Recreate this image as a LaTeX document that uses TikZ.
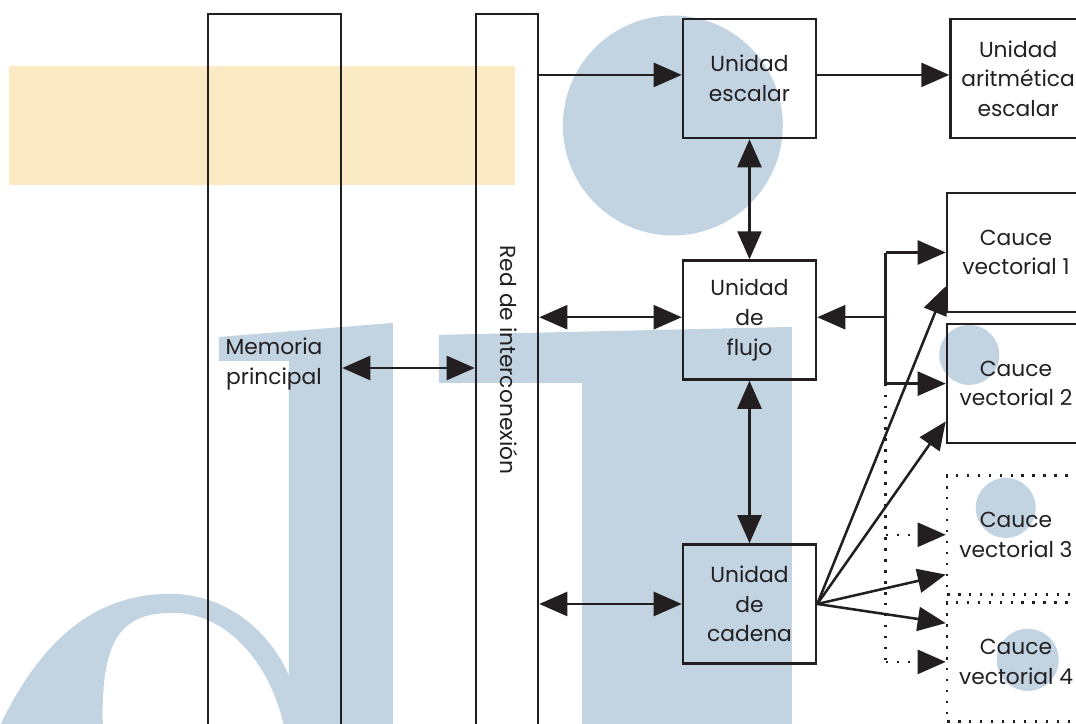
\documentclass[tikz,border=0pt]{standalone}
\usepackage{xcolor}
\usepackage{fontspec}
\setmainfont{Poppins}
\usetikzlibrary{arrows.meta, positioning}

\definecolor{inkline}{HTML}{231F20}
\definecolor{logoblue}{HTML}{C2D4E2}
\definecolor{bandyellow}{HTML}{FAEBC5}

\begin{document}
\begin{tikzpicture}[
  node distance=0.24cm and 3.3cm,
  unit/.style={rectangle, draw=inkline, line width=1.8pt, minimum width=3.325cm, minimum height=2.975cm, align=center, text=inkline, font=\fontsize{15.5}{21}\selectfont},
  pipe/.style={unit, minimum width=3.45cm},
  pipeoff/.style={pipe, dash pattern=on 1.8pt off 6pt},
  column/.style={rectangle, draw=inkline, line width=1.8pt, minimum height=18.65cm},
  tag/.style={align=center, text=inkline, font=\fontsize{15.5}{21}\selectfont},
  wire/.style={line width=1.8pt, draw=inkline},
  arrow/.style={wire, -{Triangle[length=0.7cm, width=0.6cm]}},
  biarrow/.style={wire, {Triangle[length=0.7cm, width=0.6cm]}-{Triangle[length=0.7cm, width=0.6cm]}},
  dotline/.style={wire, dash pattern=on 1.8pt off 6pt},
  dotarrow/.style={arrow, dash pattern=on 1.8pt off 6pt}
]
\useasboundingbox (0,0) rectangle (26.9,-18.1);
\clip (0,0) rectangle (26.9,-18.1);

% Background marks (pixel grid)
\begin{scope}[x=0.025cm, y=-0.025cm]
  \fill[bandyellow] (9,66) rectangle (515,185);
  \fill[logoblue] (673,125.5) circle (110);
  \fill[logoblue] (439,335) -- (792,327) -- (792,730) -- (582,730) -- (582,383) -- (439,383) -- cycle;
  \fill[logoblue] (219,337) -- (393,323) -- (393,730) -- (289,730) -- (289,361) -- (219,361) -- cycle;
  \fill[logoblue, even odd rule]
    (-2,730) .. controls (40,640) and (95,594) .. (170,594) .. controls (225,594) and (270,630) .. (290,678) -- (290,730) -- cycle
    (103,730) .. controls (100,640) and (120,613) .. (173,613) .. controls (225,613) and (270,660) .. (285,730) -- cycle;
  \fill[logoblue] (969.5,355) circle (30);
  \fill[logoblue] (1006,508) circle (30);
  \fill[logoblue] (1028,660) circle (31);
\end{scope}

% Memory and network columns
\node (memoria) [column, minimum width=3.325cm] at (6.8625,-9.675) {};
\node (red) [column, minimum width=1.55cm] at (12.675,-9.675) {};
\node (memtxt) [tag] at (6.85,-9.1) {Memoria\\principal};
\node (redtxt) [tag, rotate=-90] at (12.72,-9.0) {Red de interconexión};

% Control units
\node (escalar) [unit] at (18.7375,-1.9625) {Unidad\\escalar};
\node (aritmetica) [pipe, minimum width=3.38cm, right=of escalar] {Unidad\\aritmética\\escalar};
\node (flujo) [unit, below=3.0cm of escalar] {Unidad\\de\\flujo};
\node (cadena) [unit, below=4.06cm of flujo] {Unidad\\de\\cadena};

% Vector pipes
\node (cauce1) [pipe] at (25.4,-6.3125) {Cauce\\vectorial 1};
\node (cauce2) [pipe, below=of cauce1] {Cauce\\vectorial 2};
\node (cauce3) [pipeoff, below=0.74cm of cauce2] {Cauce\\vectorial 3};
\node (cauce4) [pipeoff, below=0.14cm of cauce3] {Cauce\\vectorial 4};

\coordinate (membus) at (0,-9.2);
\coordinate (fork) at (22.14,0);

% Main connections
\draw [biarrow] (memoria.east |- membus) -- (red.west |- membus);
\draw [arrow] (red.east |- escalar.west) ++(0,0.09) -- ([yshift=0.09cm]escalar.west);
\draw [arrow] ([yshift=0.09cm]escalar.east) -- ([yshift=0.09cm]aritmetica.west);
\draw [biarrow] (escalar) -- (flujo);
\draw [biarrow] (flujo) -- (cadena);
\draw [biarrow] (red.east |- flujo.west) ++(0,0.07) -- ([yshift=0.07cm]flujo.west);
\draw [biarrow] (red.east |- cadena.west) -- (cadena.west);

% Fork between flujo and the pipes
\draw [wire] (fork |- cauce1.west) -- (fork |- cauce2.west);
\draw [arrow] (fork |- flujo.east) ++(0,0.07) -- ([yshift=0.07cm]flujo.east);
\draw [arrow] (fork |- cauce1.west) -- (cauce1.west);
\draw [arrow] (fork |- cauce2.west) -- (cauce2.west);
\draw [dotline] (fork |- cauce2.west) -- (fork |- cauce4.west);
\draw [dotarrow] (fork |- cauce3.west) -- (cauce3.west);
\draw [dotarrow] (fork |- cauce4.west) -- (cauce4.west);

% Fan out of cadena
\draw [arrow] (cadena.east) -- ([yshift=0.675cm]cauce1.south west);
\draw [arrow] (cadena.east) -- ([yshift=0.575cm]cauce2.south west);
\draw [arrow] (cadena.east) -- ([yshift=0.525cm]cauce3.south west);
\draw [arrow] (cadena.east) -- ([yshift=-0.55cm]cauce4.north west);

\end{tikzpicture}
\end{document}
